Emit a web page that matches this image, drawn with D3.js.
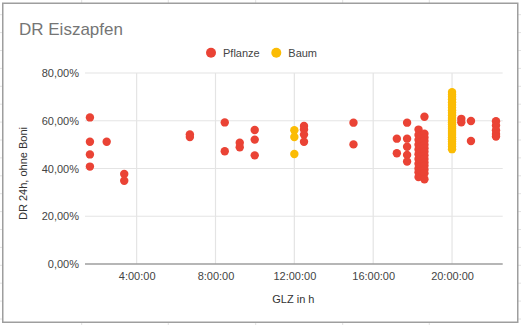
<!DOCTYPE html>
<html>
<head>
<meta charset="utf-8">
<script src="https://cdn.jsdelivr.net/npm/d3@7"></script>
<style>
  html, body { margin: 0; padding: 0; background: #fff; }
  svg { display: block; }
  text { font-family: Arial, "Liberation Sans", sans-serif; }
</style>
</head>
<body>
<svg id="chart" width="521" height="325"></svg>
<script>
// GLZ (hours of day) and DR 24h (percent) per group
const pflanzeHours = [
  1.63, 1.63, 1.63, 1.63, 2.48, 3.37, 3.37,
  6.70, 6.70, 8.47, 8.47, 9.23, 9.23, 9.99, 9.99, 9.99,
  12.49, 12.49, 12.49, 12.49, 15.0, 15.0,
  17.2, 17.2, 17.72, 17.72, 17.72, 17.72, 17.72,
  18.3, 18.3, 18.3, 18.3, 18.3, 18.3, 18.3, 18.3, 18.3, 18.3, 18.3,
  18.45, 18.45, 18.45, 18.45, 18.45, 18.45, 18.45, 18.45,
  18.6, 18.6, 18.6, 18.6, 18.6, 18.6, 18.6, 18.6, 18.6, 18.6, 18.6, 18.6, 18.6, 18.6,
  20.47, 20.47, 20.96, 20.96,
  22.23, 22.23, 22.23, 22.23, 22.23
];
const pflanzeValues = [
  61.4, 51.2, 45.9, 40.8, 51.2, 37.7, 34.9,
  54.3, 53.2, 59.3, 47.2, 50.8, 48.9, 56.1, 52.1, 45.5,
  57.8, 56.3, 54.2, 51.2, 59.2, 50.1,
  52.5, 46.4, 59.2, 52.5, 49.1, 45.7, 42.9,
  56.3, 54.0, 52.0, 50.0, 48.0, 46.0, 44.0, 42.0, 40.0, 38.4, 36.4,
  53.6, 51.0, 49.0, 47.0, 45.0, 43.0, 41.0, 39.0,
  61.7, 54.6, 53.0, 51.5, 50.0, 48.5, 47.0, 45.5, 44.0, 42.5, 41.2, 39.6, 38.0, 35.5,
  60.8, 59.4, 59.9, 51.5,
  59.8, 58.0, 56.0, 54.5, 53.4
];

const baumHours = [
  12.0, 12.0, 12.0,
  20.0, 20.0, 20.0, 20.0, 20.0, 20.0, 20.0, 20.0, 20.0, 20.0, 20.0, 20.0, 20.0,
  20.0, 20.0, 20.0, 20.0, 20.0, 20.0, 20.0, 20.0, 20.0, 20.0, 20.0, 20.0
];
const baumValues = [
  56.0, 53.2, 46.1,
  72.0, 71.0, 70.1, 69.0, 67.8, 66.6, 65.5, 64.4, 63.4, 62.3, 61.2, 60.3, 59.4,
  58.5, 57.5, 56.7, 55.7, 54.9, 54.0, 53.1, 52.2, 51.3, 50.3, 49.2, 48.1
];

const xTicks = [4, 8, 12, 16, 20];
const yTicks = [0, 20, 40, 60, 80];

const seriesNames = ["Pflanze", "Baum"];
const seriesColors = ["#ea4335", "#fbbc04"];

const W = 521, H = 325;
const svg = d3.select("#chart");

// spreadsheet cell grid behind the embedded chart
const sheet = svg.append("g").attr("stroke", "#e2e2e2").attr("stroke-width", 1);
[81.7, 168.3, 255.7, 342.7, 429.3].forEach(x => {
  sheet.append("line").attr("x1", x).attr("x2", x).attr("y1", 0).attr("y2", H);
});
for (let y = 14.7; y < H; y += 17.9) {
  sheet.append("line").attr("x1", 0).attr("x2", W).attr("y1", y).attr("y2", y);
}

// chart card
svg.append("rect")
  .attr("x", 2.75).attr("y", 3.25)
  .attr("width", 515).attr("height", 319)
  .attr("fill", "#fff")
  .attr("stroke", "#9e9e9e")
  .attr("stroke-width", 1.5);

const plot = { left: 85, right: 502.7, top: 73, bottom: 264 };

const x = d3.scaleLinear().domain([1.38, 22.57]).range([plot.left, plot.right]);
const y = d3.scaleLinear().domain([0, 80]).range([plot.bottom, plot.top]);

// title
svg.append("text")
  .attr("x", 19).attr("y", 35)
  .attr("font-size", 17)
  .attr("fill", "#757575")
  .text("DR Eiszapfen");

// legend
const legend = svg.append("g");
const legendX = [211, 276.3];
seriesNames.forEach((name, i) => {
  legend.append("circle")
    .attr("cx", legendX[i]).attr("cy", 52.7).attr("r", 5)
    .attr("fill", seriesColors[i]);
  legend.append("text")
    .attr("x", legendX[i] + 12).attr("y", 56.5)
    .attr("font-size", 11).attr("fill", "#444")
    .text(name);
});

// gridlines
const grid = svg.append("g");
grid.selectAll("line.h").data(yTicks.filter(t => t > 0)).join("line")
  .attr("x1", plot.left).attr("x2", plot.right)
  .attr("y1", d => y(d)).attr("y2", d => y(d))
  .attr("stroke", "#e4e4e4").attr("stroke-width", 1.2);
grid.selectAll("line.v").data(xTicks).join("line")
  .attr("x1", d => x(d)).attr("x2", d => x(d))
  .attr("y1", plot.top).attr("y2", plot.bottom)
  .attr("stroke", "#e4e4e4").attr("stroke-width", 1.2);

// y axis labels
const fmtPct = v => v.toFixed(2).replace(".", ",") + "%";
const yAxis = d3.axisLeft(y).tickValues(yTicks).tickSize(0).tickPadding(6).tickFormat(fmtPct);
svg.append("g")
  .attr("transform", `translate(${plot.left},0)`)
  .call(yAxis)
  .call(g => g.select(".domain").remove())
  .call(g => g.selectAll("text").attr("font-size", 11).attr("fill", "#444")
    .attr("font-family", "Arial, 'Liberation Sans', sans-serif"));

// x axis labels
const fmtTime = h => `${h}:00:00`;
const xAxis = d3.axisBottom(x).tickValues(xTicks).tickSize(0).tickPadding(8).tickFormat(fmtTime);
svg.append("g")
  .attr("transform", `translate(0,${plot.bottom})`)
  .call(xAxis)
  .call(g => g.select(".domain").remove())
  .call(g => g.selectAll("text").attr("font-size", 11).attr("fill", "#444")
    .attr("font-family", "Arial, 'Liberation Sans', sans-serif"));

// baseline at 0%
svg.append("line")
  .attr("x1", plot.left).attr("x2", plot.right)
  .attr("y1", y(0)).attr("y2", y(0))
  .attr("stroke", "#9e9e9e").attr("stroke-width", 1.5);

// axis titles
svg.append("text")
  .attr("x", (plot.left + plot.right) / 2 - 0.5).attr("y", 303)
  .attr("text-anchor", "middle")
  .attr("font-size", 11).attr("fill", "#333")
  .text("GLZ in h");
svg.append("text")
  .attr("transform", `translate(27,${(plot.top + plot.bottom) / 2 + 5}) rotate(-90)`)
  .attr("text-anchor", "middle")
  .attr("font-size", 11).attr("fill", "#333")
  .text("DR 24h, ohne Boni");

// points
const series = [
  { hours: pflanzeHours, values: pflanzeValues, color: seriesColors[0] },
  { hours: baumHours, values: baumValues, color: seriesColors[1] }
];
series.forEach(s => {
  const pts = s.hours.map((h, i) => ({ h, v: s.values[i] }));
  svg.append("g").selectAll("circle").data(pts).join("circle")
    .attr("cx", d => x(d.h))
    .attr("cy", d => y(d.v))
    .attr("r", 4.2)
    .attr("fill", s.color);
});
</script>
</body>
</html>
